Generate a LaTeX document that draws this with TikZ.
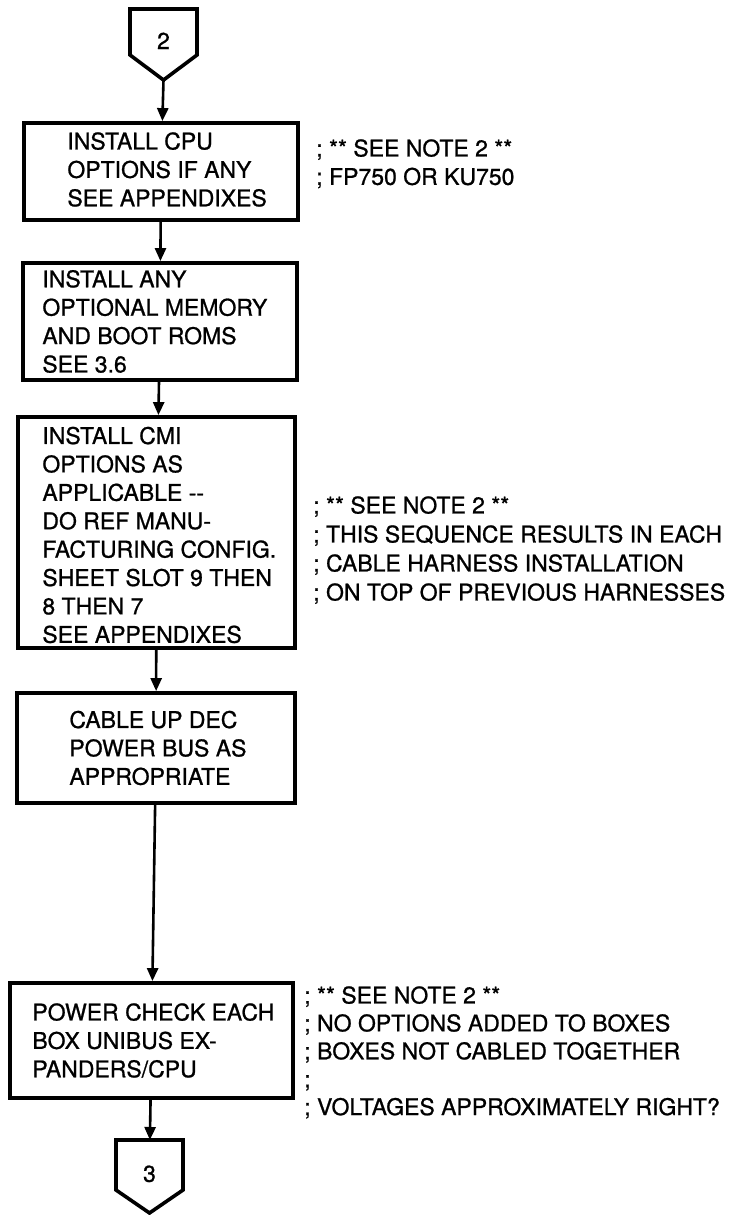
\documentclass[tikz,border=0pt]{standalone}
\usepackage{fontspec}
\setmainfont{TeX Gyre Heros}[FakeBold=0.9]
\usetikzlibrary{arrows.meta}

\begin{document}
\begin{tikzpicture}[x=1pt, y=-1pt, line width=2.6pt,
        >={Triangle[length=13pt,width=11pt]},
        font=\fontsize{23}{28.4}\selectfont]
      \tikzstyle{stepbox} = [draw, line width=3.8pt, inner sep=0pt]
      \tikzstyle{steptext} = [align=left, inner sep=0pt, anchor=west]
      \tikzstyle{note} = [align=left, inner sep=0pt, anchor=north west]
      \tikzstyle{offpage} = [minimum width=67pt, minimum height=46pt, inner sep=0pt,
        outer sep=0pt, text height=34pt]
      \tikzstyle{pageframe} = [line width=3.6pt, line join=miter]
      \useasboundingbox (0,0) rectangle (751,1215);

      % off-page connector in
      \node (two) [offpage] at (163.5,32) {2};
      \coordinate (twotip) at ([yshift=-25pt]two.south);
      \draw[pageframe] (two.south west) -- (two.north west) -- (two.north east)
        -- (two.south east) -- (twotip) -- cycle;

      % steps
      \node (cpu) [stepbox, minimum width=274pt, minimum height=97pt] at (161,171.5) {};
      \node (cputext) [steptext] at ([xshift=44pt,yshift=2pt]cpu.west)
        {INSTALL CPU\\OPTIONS IF ANY\\SEE APPENDIXES};
      \node (memory) [stepbox, minimum width=274pt, minimum height=117pt] at (160,321.5) {};
      \node (memorytext) [steptext] at ([xshift=20pt]memory.west)
        {INSTALL ANY\\OPTIONAL MEMORY\\AND BOOT ROMS\\SEE 3.6};
      \node (cmi) [stepbox, minimum width=277pt, minimum height=231pt] at (156.5,532.5) {};
      \node (cmitext) [steptext] at ([xshift=25pt,yshift=-2.5pt]cmi.west)
        {INSTALL CMI\\OPTIONS AS\\APPLICABLE -{}-\\DO REF MANU-\\FACTURING CONFIG.\\
         SHEET SLOT 9 THEN\\8 THEN 7\\SEE APPENDIXES};
      \node (cable) [stepbox, minimum width=278pt, minimum height=110pt] at (156,748) {};
      \node (cabletext) [steptext] at ([xshift=53pt]cable.west)
        {CABLE UP DEC\\POWER BUS AS\\APPROPRIATE};
      \node (check) [stepbox, minimum width=283pt, minimum height=115pt] at (151.5,1040.5) {};
      \node (checktext) [steptext] at ([xshift=23pt]check.west)
        {POWER CHECK EACH\\BOX UNIBUS EX-\\PANDERS/CPU};

      % off-page connector out
      \node (three) [offpage, minimum height=50pt] at (149.5,1165) {3};
      \coordinate (threetip) at ([yshift=-23pt]three.south);
      \draw[pageframe] (three.south west) -- (three.north west) -- (three.north east)
        -- (three.south east) -- (threetip) -- cycle;

      \draw[->] (twotip) -- (cpu);
      \draw[->] (cpu) -- (memory);
      \draw[->] (memory) -- (cmi);
      \draw[->] (cmi) -- (cable);
      \draw[->] (cable) -- (check);
      \draw[->] (check) -- (three);

      % comments
      \node (cpunote) [note] at (315,138) {; ** SEE NOTE 2 **\\; FP750 OR KU750};
      \node (cminote) [note, font=\fontsize{23}{29}\selectfont] at (312,495)
        {; ** SEE NOTE 2 **\\; THIS SEQUENCE RESULTS IN EACH\\; CABLE HARNESS INSTALLATION\\
         ; ON TOP OF PREVIOUS HARNESSES};
      \node (checknote) [note, font=\fontsize{23}{27.9}\selectfont] at (303,985)
        {; ** SEE NOTE 2 **\\; NO OPTIONS ADDED TO BOXES\\; BOXES NOT CABLED TOGETHER\\;\\
         ; VOLTAGES APPROXIMATELY RIGHT?};
\end{tikzpicture}
\end{document}
